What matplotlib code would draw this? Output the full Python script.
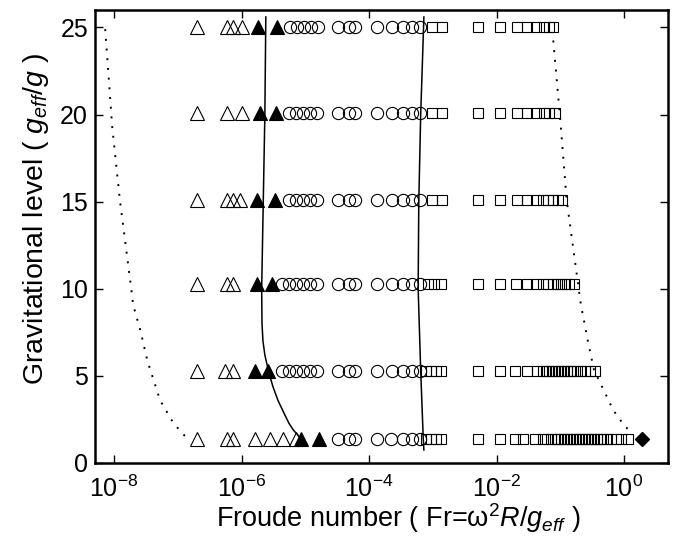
import numpy as np
import matplotlib
matplotlib.use('Agg')
import matplotlib.pyplot as plt

plt.rcParams['font.family'] = ['Liberation Sans', 'DejaVu Sans']
plt.rcParams['mathtext.fontset'] = 'custom'
plt.rcParams['mathtext.rm'] = 'Liberation Sans'
plt.rcParams['mathtext.it'] = 'Liberation Sans:italic'
plt.rcParams['mathtext.bf'] = 'Liberation Sans:bold'

# ---------------- data (log10 of Froude number) ----------------
g_levels = [1.38, 5.28, 10.25, 15.1, 20.1, 25.0]

tri_open_g1 = [-6.70, -6.23, -6.13, -5.79, -5.55, -5.35, -5.15]
tri_fill_g1 = [-5.07, -4.78]
circ_g1 = [-4.48, -4.31, -4.22, -3.88, -3.66, -3.46, -3.33, -3.20]
sq_g1 = [-3.10, -3.03, -2.95, -2.87, -2.29, -1.95, -1.71, -1.58, -1.40,
         -1.27, -1.21, -1.15, -1.08, -1.04, -0.99, -0.94, -0.89, -0.85, -0.80,
         -0.75, -0.71, -0.66, -0.61, -0.57, -0.52, -0.47, -0.42, -0.38, -0.33,
         -0.27, -0.20, -0.13, -0.05, 0.06]
diamond_g1 = [0.28]

tri_open_g5 = [-6.70, -6.26, -6.13]
tri_fill_g5 = [-5.79, -5.58]
circ_g5 = [-5.36, -5.25, -5.14, -5.04, -4.93, -4.82, -4.48, -4.31, -4.22,
           -3.88, -3.64, -3.46, -3.33, -3.20]
sq_g5 = [-3.10, -3.03, -2.95, -2.87, -2.29, -1.95, -1.71, -1.53, -1.37,
         -1.27, -1.22, -1.18, -1.13, -1.08, -1.04, -0.99, -0.94, -0.89, -0.85,
         -0.80, -0.74, -0.68, -0.61, -0.53, -0.45]

tri_open_g10 = [-6.70, -6.23, -6.13]
tri_fill_g10 = [-5.76, -5.52]
circ_g10 = [-5.36, -5.25, -5.14, -5.04, -4.93, -4.82, -4.48, -4.31, -4.22,
            -3.88, -3.64, -3.46, -3.33, -3.20]
sq_g10 = [-3.08, -2.98, -2.87, -2.29, -1.95, -1.69, -1.52, -1.38, -1.27,
          -1.19, -1.11, -1.05, -0.99, -0.93, -0.86, -0.78]

tri_open_g15 = [-6.70, -6.23, -6.13, -6.02]
tri_fill_g15 = [-5.76, -5.47]
circ_g15 = [-5.26, -5.15, -5.04, -4.93, -4.82, -4.48, -4.31, -4.22,
            -3.88, -3.64, -3.46, -3.33, -3.20]
sq_g15 = [-3.02, -2.86, -2.29, -1.95, -1.68, -1.53, -1.38, -1.27, -1.19,
          -1.11, -1.04, -0.97]

tri_open_g20 = [-6.70, -6.23, -6.00]
tri_fill_g20 = [-5.71, -5.46]
circ_g20 = [-5.26, -5.15, -5.04, -4.93, -4.82, -4.48, -4.31, -4.22,
            -3.88, -3.64, -3.46, -3.33, -3.20]
sq_g20 = [-3.02, -2.86, -2.29, -1.95, -1.68, -1.53, -1.38, -1.25, -1.17, -1.08]

tri_open_g25 = [-6.70, -6.23, -6.13, -6.00]
tri_fill_g25 = [-5.74, -5.44]
circ_g25 = [-5.24, -5.13, -5.02, -4.91, -4.80, -4.48, -4.31, -4.22,
            -3.88, -3.64, -3.46, -3.33, -3.20]
sq_g25 = [-3.02, -2.86, -2.29, -1.95, -1.68, -1.53, -1.38, -1.25, -1.17, -1.11]

# boundary curves
dotted_left_g = [24.9, 19.3, 15.1, 10.25, 9.06, 7.63, 5.9, 3.61, 2.29, 1.55]
dotted_left_logfr = [-8.14, -8.03, -7.91, -7.74, -7.70, -7.59, -7.48, -7.28, -7.07, -6.89]

dotted_right_g = [24.25, 19.67, 15.1, 10.25, 9.16, 6.86, 5.33, 4.19, 3.04, 2.08, 1.74]
dotted_right_logfr = [-1.11, -1.00, -0.90, -0.72, -0.68, -0.56, -0.47, -0.32, -0.17, 0.016, 0.146]

solid_left_g = [25.6, 20, 15, 10, 8, 7, 6.2, 5.3, 4.4, 3.6, 2.75, 2.3, 1.9, 1.45]
solid_left_logfr = [-5.62, -5.635, -5.66, -5.685, -5.68, -5.665, -5.635, -5.58,
                    -5.51, -5.43, -5.32, -5.26, -5.19, -5.08]

solid_right_g = [25.6, 20, 15, 10, 5.3, 1.4, 0.75]
solid_right_logfr = [-3.14, -3.19, -3.22, -3.23, -3.19, -3.15, -3.14]

x_ticks = [1e-8, 1e-6, 1e-4, 1e-2, 1e0]
y_ticks = [0, 5, 10, 15, 20, 25]

rows = [
    (tri_open_g1, tri_fill_g1, circ_g1, sq_g1),
    (tri_open_g5, tri_fill_g5, circ_g5, sq_g5),
    (tri_open_g10, tri_fill_g10, circ_g10, sq_g10),
    (tri_open_g15, tri_fill_g15, circ_g15, sq_g15),
    (tri_open_g20, tri_fill_g20, circ_g20, sq_g20),
    (tri_open_g25, tri_fill_g25, circ_g25, sq_g25),
]

# ---------------- plot ----------------
fig = plt.figure(figsize=(6.73, 5.36), dpi=100)
ax = fig.add_axes([95/673, 1-463/536, (668-95)/673, (463-10)/536])

mew = 0.8
for g, (to, tf, ci, sq) in zip(g_levels, rows):
    ax.plot(10**np.array(to), [g]*len(to), ls='none', marker='^', ms=10.5,
            mfc='none', mec='black', mew=mew)
    ax.plot(10**np.array(tf), [g]*len(tf), ls='none', marker='^', ms=10.5,
            mfc='black', mec='black', mew=mew)
    ax.plot(10**np.array(ci), [g]*len(ci), ls='none', marker='o', ms=8.8,
            mfc='none', mec='black', mew=mew)
    ax.plot(10**np.array(sq), [g]*len(sq), ls='none', marker='s', ms=7.3,
            mfc='none', mec='black', mew=mew)

ax.plot(10**np.array(diamond_g1), [g_levels[0]], ls='none', marker='D', ms=7.5,
        mfc='black', mec='black')

ax.plot(10**np.array(solid_left_logfr), solid_left_g, color='black', lw=1.1)
ax.plot(10**np.array(solid_right_logfr), solid_right_g, color='black', lw=1.1)
ax.plot(10**np.array(dotted_left_logfr), dotted_left_g, color='black', lw=1.4,
        ls=(0, (1, 4)))
ax.plot(10**np.array(dotted_right_logfr), dotted_right_g, color='black', lw=1.4,
        ls=(0, (1, 4)))

ax.set_xscale('log')
ax.set_xlim(10**-8.30, 10**0.69)
ax.set_ylim(0, 26)
ax.set_xticks(x_ticks)
ax.xaxis.set_minor_locator(matplotlib.ticker.NullLocator())
ax.set_yticks(y_ticks)
ax.tick_params(direction='in', length=6, width=1, top=True, right=True,
               labelsize=18, pad=5)
ax.tick_params(axis='x', pad=9)
for s in ax.spines.values():
    s.set_linewidth(1.8)

ax.set_xlabel(r'Froude number ( Fr=ω$^{2}$$R$/$g_{eff}$ )', fontsize=19.5)
ax.set_ylabel(r'Gravitational level ( $g_{eff}$/$g$ )', fontsize=20.5)
ax.xaxis.set_label_coords(0.53, -0.085)
ax.yaxis.set_label_coords(-0.077, 0.539)

fig.savefig('out.png', dpi=100)
